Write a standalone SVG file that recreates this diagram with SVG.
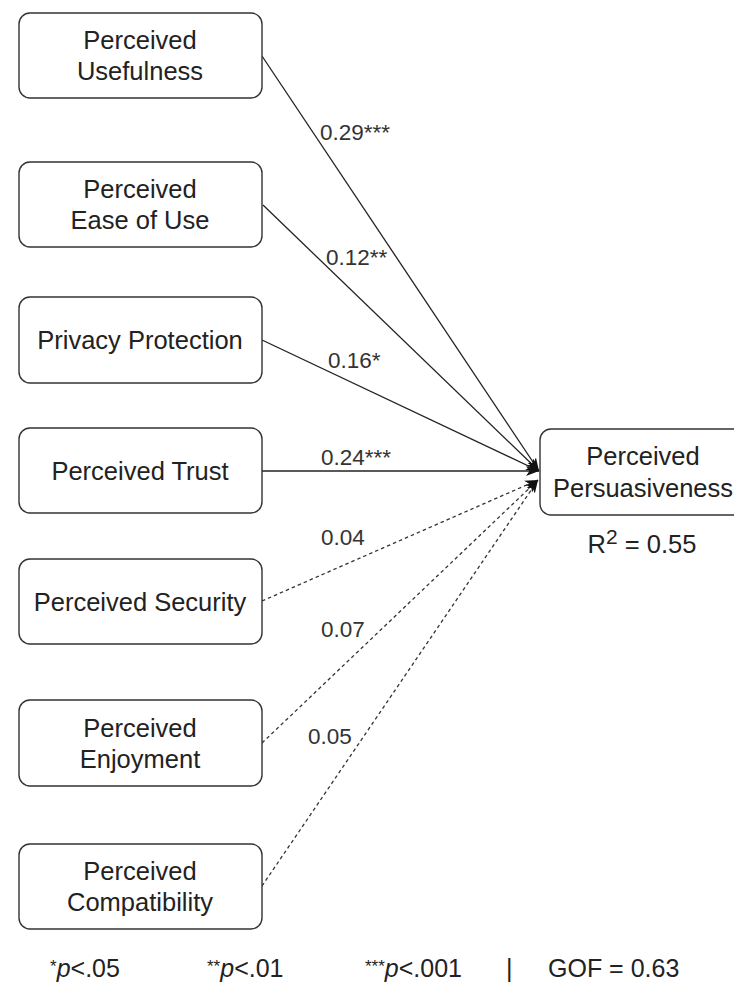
<svg xmlns="http://www.w3.org/2000/svg" width="734" height="985" viewBox="0 0 734 985">
  <style>
    .box { fill: #ffffff; stroke: #333333; stroke-width: 1.4; }
    .nt { font-family: "Liberation Sans", Arial, sans-serif; font-size: 25.5px; fill: #222222; text-anchor: middle; }
    .lbl { font-family: "Liberation Sans", Arial, sans-serif; font-size: 22.5px; fill: #333333; }
    .ft { font-family: "Liberation Sans", Arial, sans-serif; font-size: 25px; fill: #222222; }
    .sup { font-size: 17px; }
    .solid { stroke: #222222; stroke-width: 1.3; fill: none; }
    .dash { stroke: #333333; stroke-width: 1.3; fill: none; stroke-dasharray: 3.5 3; }
  </style>
  <defs>
    <marker id="arr" markerUnits="userSpaceOnUse" markerWidth="14" markerHeight="12" refX="13" refY="5" orient="auto">
      <path d="M0,0 L13,5 L0,10 L3.5,5 z" fill="#111111"/>
    </marker>
  </defs>
  <rect width="734" height="985" fill="#ffffff"/>

  <g id="connectors">
    <line class="solid" x1="262" y1="56" x2="539" y2="471" marker-end="url(#arr)"/>
    <line class="solid" x1="263" y1="205" x2="539" y2="471" marker-end="url(#arr)"/>
    <line class="solid" x1="262" y1="340" x2="539" y2="471" marker-end="url(#arr)"/>
    <line class="solid" x1="262" y1="471" x2="539" y2="471" marker-end="url(#arr)"/>
    <line class="dash" x1="262" y1="601" x2="538" y2="480" marker-end="url(#arr)"/>
    <line class="dash" x1="262" y1="743" x2="538" y2="480" marker-end="url(#arr)"/>
    <line class="dash" x1="262" y1="886" x2="538" y2="480" marker-end="url(#arr)"/>
    <text class="lbl" x="320" y="140">0.29***</text>
    <text class="lbl" x="326" y="265">0.12**</text>
    <text class="lbl" x="328" y="368">0.16*</text>
    <text class="lbl" x="321" y="465">0.24***</text>
    <text class="lbl" x="321" y="545">0.04</text>
    <text class="lbl" x="321" y="637">0.07</text>
    <text class="lbl" x="308" y="744">0.05</text>
  </g>

  <g id="usefulness">
    <rect class="box" x="19" y="13" width="243" height="85" rx="11"/>
    <text class="nt" x="140" y="49">Perceived</text>
    <text class="nt" x="140" y="80">Usefulness</text>
  </g>
  <g id="ease">
    <rect class="box" x="19" y="162" width="243" height="85" rx="11"/>
    <text class="nt" x="140" y="198">Perceived</text>
    <text class="nt" x="140" y="229">Ease of Use</text>
  </g>
  <g id="privacy">
    <rect class="box" x="19" y="297" width="243" height="86" rx="11"/>
    <text class="nt" x="140" y="349">Privacy Protection</text>
  </g>
  <g id="trust">
    <rect class="box" x="19" y="428" width="243" height="85" rx="11"/>
    <text class="nt" x="140" y="480">Perceived Trust</text>
  </g>
  <g id="security">
    <rect class="box" x="19" y="559" width="243" height="85" rx="11"/>
    <text class="nt" x="140" y="611">Perceived Security</text>
  </g>
  <g id="enjoyment">
    <rect class="box" x="19" y="700" width="243" height="86" rx="11"/>
    <text class="nt" x="140" y="737">Perceived</text>
    <text class="nt" x="140" y="768">Enjoyment</text>
  </g>
  <g id="compatibility">
    <rect class="box" x="19" y="844" width="243" height="85" rx="11"/>
    <text class="nt" x="140" y="880">Perceived</text>
    <text class="nt" x="140" y="911">Compatibility</text>
  </g>
  <g id="persuasiveness">
    <rect class="box" x="540" y="429" width="212" height="86" rx="11"/>
    <text class="nt" x="643" y="465">Perceived</text>
    <text class="nt" x="643" y="497">Persuasiveness</text>
    <text class="nt" x="642" y="553">R<tspan font-size="21" dy="-9">2</tspan><tspan dy="9"> = 0.55</tspan></text>
  </g>

  <g id="footer">
    <text class="ft" x="50" y="977"><tspan class="sup" dy="-5">*</tspan><tspan font-style="italic" dy="5">p</tspan>&lt;.05</text>
    <text class="ft" x="207" y="977"><tspan class="sup" dy="-5">**</tspan><tspan font-style="italic" dy="5">p</tspan>&lt;.01</text>
    <text class="ft" x="365" y="977"><tspan class="sup" dy="-5">***</tspan><tspan font-style="italic" dy="5">p</tspan>&lt;.001</text>
    <text class="ft" x="506" y="977">|</text>
    <text class="ft" x="548" y="977">GOF = 0.63</text>
  </g>
</svg>
